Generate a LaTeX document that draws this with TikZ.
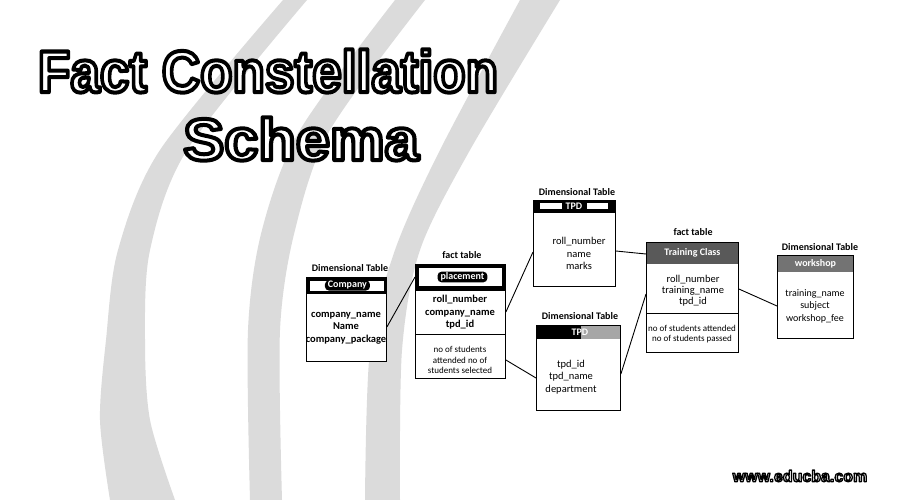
\documentclass[tikz,border=0pt]{standalone}
\usepackage{fontspec}
\usepackage{graphicx}
\setmainfont{Carlito}
\newfontfamily\titlefont{Liberation Sans}
\usetikzlibrary{calc}
\newcommand\outlinedtext[2]{{\special{pdf:literal direct 2 Tr #1 w 1 j 0 0 0 RG}#2\special{pdf:literal direct 0 Tr}}}
\tikzset{
 tbl/.style={draw=black, line width=0.9pt, fill=white, anchor=north west, inner sep=0pt},
 lbl/.style={font=\bfseries\fontsize{10}{12}\selectfont, inner sep=0pt},
 body/.style={font=\fontsize{10.5}{12.5}\selectfont, align=center, inner sep=0pt},
 bodyb/.style={font=\bfseries\fontsize{10.5}{12.5}\selectfont, align=center, inner sep=0pt},
 meas/.style={font=\fontsize{9}{10.5}\selectfont, align=center, inner sep=0pt},
 pill/.style={fill=black, text=white, rounded corners=4pt, inner xsep=3pt, inner ysep=1pt, font=\bfseries\fontsize{10}{11}\selectfont},
 hdtext/.style={text=white, font=\bfseries\fontsize{10}{11}\selectfont, inner sep=0pt},
 link/.style={line width=0.9pt},
 band/.style={fill=gray!28, draw=none},
 ttl/.style={font=\titlefont\bfseries\fontsize{59}{60}\selectfont, inner sep=0pt, text=white},
 wm/.style={font=\titlefont\bfseries\fontsize{16}{18}\selectfont, inner sep=0pt, text=white},
}
\begin{document}
\begin{tikzpicture}[x=1pt,y=-1pt]
\useasboundingbox (0,0) rectangle (900,500);
\fill[white] (0,0) rectangle (900,500);
% background bands
\fill[band] plot[smooth] coordinates {(283,0)(160,150)(118,250)(106,340)(100,420)(110,500)}
  -- plot[smooth] coordinates {(175,500)(150,420)(145,340)(150,250)(187,150)(307,0)} -- cycle;
\fill[band] plot[smooth] coordinates {(395,0)(300,130)(262,230)(248,330)(250,500)}
  -- plot[smooth] coordinates {(282,500)(280,330)(295,230)(330,130)(425,0)} -- cycle;
\fill[band] plot[smooth] coordinates {(520,0)(440,150)(395,250)(370,350)(365,500)}
  -- plot[smooth] coordinates {(400,500)(402,350)(420,250)(470,150)(560,0)} -- cycle;
% title
\node[ttl] (title1) at (268,71) {\scalebox{0.9}[1]{\outlinedtext{4}{Fact Constellation}}};
\node[ttl] (title2) at (301,139) {\scalebox{1.04}[1]{\outlinedtext{4}{Schema}}};
\node[wm] (site) at (800,476) {\outlinedtext{1.3}{www.educba.com}};

% tables
\node[tbl, minimum width=80pt, minimum height=84pt] (company) at (306,277) {};
\node[tbl, minimum width=90pt, minimum height=114pt] (placement) at (415,264) {};
\node[tbl, minimum width=82pt, minimum height=86pt] (tpdA) at (533,200) {};
\node[tbl, minimum width=84pt, minimum height=85pt] (tpdB) at (536,325) {};
\node[tbl, minimum width=92pt, minimum height=110pt] (training) at (646,242) {};
\node[tbl, minimum width=76pt, minimum height=83pt] (workshop) at (777,255) {};

% headers
\fill[black] (company.north west) rectangle ($(company.north east)+(0,17)$);
\fill[white] ($(company.north west)+(4,4)$) rectangle ($(company.north east)+(-3,14)$);
\node[pill] (hcompany) at ($(company.north)+(1,8.5)$) {Company};

\fill[black] (placement.north west) rectangle ($(placement.north east)+(0,27)$);
\fill[white] ($(placement.north west)+(4,4)$) rectangle ($(placement.north east)+(-4,22)$);
\node[pill] (hplacement) at ($(placement.north)+(2,13)$) {placement};

\fill[black] (tpdA.north west) rectangle ($(tpdA.north east)+(0,13)$);
\fill[white] ($(tpdA.north west)+(7,3)$) rectangle ($(tpdA.north west)+(29,9)$);
\fill[white] ($(tpdA.north west)+(54,3)$) rectangle ($(tpdA.north west)+(75,9)$);
\node[hdtext] (htpdA) at ($(tpdA.north west)+(41,6.5)$) {TPD};

\fill[black] (tpdB.north west) rectangle ($(tpdB.north west)+(45,14)$);
\fill[gray!70] ($(tpdB.north west)+(45,0)$) rectangle ($(tpdB.north east)+(0,14)$);
\node[hdtext] (htpdB) at ($(tpdB.north west)+(44,7)$) {TPD};

\fill[black!65] (training.north west) rectangle ($(training.north east)+(0,22)$);
\node[hdtext] (htraining) at ($(training.north)+(0,11)$) {Training Class};

\fill[black!55] (workshop.north west) rectangle ($(workshop.north east)+(0,17)$);
\node[hdtext] (hworkshop) at ($(workshop.north)+(0,8.5)$) {workshop};

% redraw borders
\foreach \t in {company,placement,tpdA,tpdB,training,workshop}
  \draw[line width=0.9pt] (\t.north west) rectangle (\t.south east);
% dividers
\draw[line width=0.9pt] ($(placement.north west)+(0,70)$) -- ($(placement.north east)+(0,70)$);
\draw[line width=0.9pt] ($(training.north west)+(0,71)$) -- ($(training.north east)+(0,71)$);

% labels
\node[lbl] (lcompany) at (350,268) {Dimensional Table};
\node[lbl] (lplacement) at (462,255) {fact table};
\node[lbl] (ltpdA) at (577,192) {Dimensional Table};
\node[lbl] (ltpdB) at (580,316) {Dimensional Table};
\node[lbl] (ltraining) at (693,232) {fact table};
\node[lbl] (lworkshop) at (820,247) {Dimensional Table};

% body texts
\node[bodyb] (bcompany) at (346,328) {company\_name\\Name\\company\_package};
\node[bodyb] (bplacement) at (460,312.5) {roll\_number\\company\_name\\tpd\_id};
\node[meas] (mplacement) at (460,360) {no of students\\attended no of\\students selected};
\node[body] (btpdA) at (579,253.5) {roll\_number\\name\\marks};
\node[body] (btpdB) at (571,377) {tpd\_id\\tpd\_name\\department};
\node[body, font=\fontsize{10.5}{11}\selectfont] (btraining) at (693,291) {roll\_number\\training\_name\\tpd\_id};
\node[meas] (mtraining) at (692,334) {no of students attended\\no of students passed};
\node[body, font=\fontsize{10}{12.5}\selectfont] (bworkshop) at (815,306) {training\_name\\subject\\workshop\_fee};

% connectors
\draw[link] ($(company.north east)+(0,50)$) -- ($(placement.north west)+(0,13)$);
\draw[link] ($(placement.north east)+(0,48)$) -- ($(tpdA.north west)+(0,52)$);
\draw[link] ($(placement.north east)+(0,96)$) -- ($(tpdB.north west)+(0,53)$);
\draw[link] ($(tpdA.north east)+(0,51)$) -- ($(training.north west)+(0,12)$);
\draw[link] ($(tpdB.north east)+(0,49)$) -- ($(training.north west)+(0,52)$);
\draw[link] ($(training.north east)+(0,47)$) -- ($(workshop.north west)+(0,51)$);
\end{tikzpicture}
\end{document}
